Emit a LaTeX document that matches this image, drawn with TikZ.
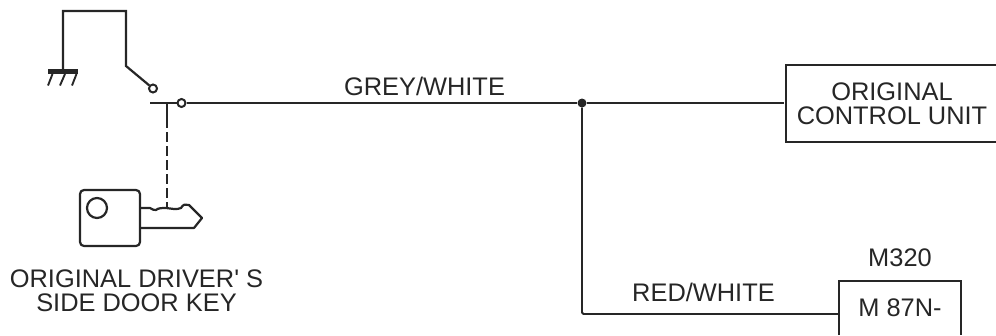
\documentclass[tikz,border=0pt]{standalone}
\usepackage{fontspec}
\newfontfamily\lblfont{Liberation Sans}
\begin{document}
\begin{tikzpicture}[x=1pt,y=-1pt,
  wire/.style={draw=black!85,line width=1.9pt},
  thick wire/.style={draw=black!85,line width=2.2pt},
  lbl/.style={font=\lblfont\fontsize{25.4}{24.5}\selectfont,text=black!85,inner sep=0pt,align=center},
  term/.style={circle,draw=black!85,line width=2pt,fill=white,minimum size=8pt,inner sep=0pt},
  dot/.style={circle,fill=black!85,minimum size=9pt,inner sep=0pt}]
\useasboundingbox (0,0) rectangle (996,335);
% coordinates
\coordinate (gnd) at (63,71);
\coordinate (tl) at (63,11);
\coordinate (tr) at (126,11);
\coordinate (hinge) at (126,66);
\node[term] (sw) at (153,88.5) {};
\coordinate (cl) at (150,103);
\node[term] (fix) at (181.5,103) {};
\coordinate (stub) at (167,103);
\coordinate (stubend) at (167,118);
\coordinate (keytop) at (167,209);
\node[dot] (j) at (582,103) {};
\coordinate (cuend) at (784,103);
\coordinate (m) at (839,314);
\coordinate (corner) at (582,314);
% ground
\draw[thick wire,line width=5pt] (48,71) -- (78,71);
\draw[wire] (52.5,74) -- (48,85.5) (65,74) -- (60,85.5) (76.5,74) -- (72,85.5);
\draw[thick wire,line join=miter] (gnd) -- (tl) -- (tr) -- (hinge) -- (sw);
% main wires
\draw[wire] (cl) -- (fix);
\draw[wire] (fix) -- (j);
\draw[wire] (j) -- (cuend);
\draw[wire] (stub) -- (stubend);
\draw[wire,dash pattern=on 10pt off 4pt] (stubend) -- (keytop);
\draw[wire,rounded corners=1.5pt] (j) -- (corner) -- (m);
% control unit box, its right side cut by the picture edge
\draw[thick wire] (996,65) -- (786,65) -- (786,142) -- (996,142);
% M320 box
\draw[thick wire] (839,335) -- (839,281) -- (961,281) -- (961,335);
% key
\draw[thick wire,rounded corners=4pt] (80,190) rectangle (140,246);
\draw[thick wire] (97,208) circle (10);
\draw[thick wire,line join=round] (140,208) -- (150,208) .. controls (153,209) and (154,211) .. (156,210)
  .. controls (158,208) and (162,208) .. (166,208) .. controls (169,207) and (171,210) .. (174,209)
  .. controls (177,209) and (179,209) .. (181,208) .. controls (183,204) and (186,204) .. (189,205)
  -- (202,218) -- (194,228) -- (140,228);
% labels
\node[lbl] (grey) at (424.5,86) {GREY/WHITE};
\node[lbl] (red) at (703.5,292) {RED/WHITE};
\node[lbl] (cutxt) at (892,104) {ORIGINAL\\CONTROL UNIT};
\node[lbl] (mname) at (900,258) {M320};
\node[lbl] (mpin) at (900,308) {M 87N-};
\node[lbl] (keytxt) at (136.5,291) {ORIGINAL DRIVER' S\\SIDE DOOR KEY};
\end{tikzpicture}
\end{document}
